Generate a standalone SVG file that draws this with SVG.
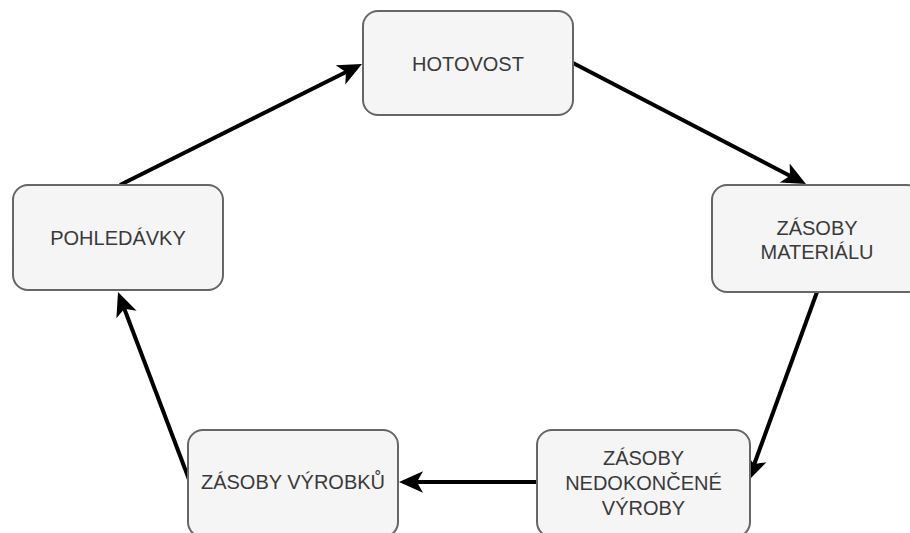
<svg xmlns="http://www.w3.org/2000/svg" width="910" height="533" viewBox="0 0 910 533">
<defs>
<marker id="arr" markerUnits="userSpaceOnUse" markerWidth="24" markerHeight="24" viewBox="0 0 20 20" refX="8" refY="10" orient="auto">
<path d="M20,10 L0,1 L5,10 L0,19 Z" fill="#000"/>
</marker>
<style>
.box{fill:#f5f5f5;stroke:#666;stroke-width:2}
.lbl{font-family:"Liberation Sans",Arial,sans-serif;font-size:20px;fill:#3a3a3a;text-anchor:middle}
.edge{stroke:#000;stroke-width:4;fill:none;marker-end:url(#arr)}
</style>
</defs>
<rect width="910" height="533" fill="#fff"/>
<g id="connectors">
<line class="edge" x1="120" y1="185" x2="349.1" y2="70.5"/>
<line class="edge" x1="573" y1="63" x2="793.2" y2="177.4"/>
<line class="edge" x1="817" y1="292" x2="753.0" y2="467.5"/>
<line class="edge" x1="537" y1="482" x2="413.4" y2="482"/>
<line class="edge" x1="190" y1="482" x2="123.1" y2="305.5"/>
</g>
<g id="hotovost">
<rect class="box" x="363" y="11" width="210" height="104" rx="15"/>
<text class="lbl" x="468" y="71">HOTOVOST</text>
</g>
<g id="zasoby-materialu">
<rect class="box" x="712" y="185" width="210" height="107" rx="15"/>
<text class="lbl" x="817" y="235">ZÁSOBY</text>
<text class="lbl" x="817" y="259">MATERIÁLU</text>
</g>
<g id="zasoby-nedokoncene-vyroby">
<rect class="box" x="537" y="430" width="213" height="107" rx="15"/>
<text class="lbl" x="643.5" y="465">ZÁSOBY</text>
<text class="lbl" x="643.5" y="490">NEDOKONČENÉ</text>
<text class="lbl" x="643.5" y="515">VÝROBY</text>
</g>
<g id="zasoby-vyrobku">
<rect class="box" x="188" y="430" width="210" height="107" rx="15"/>
<text class="lbl" x="293" y="489">ZÁSOBY VÝROBKŮ</text>
</g>
<g id="pohledavky">
<rect class="box" x="13" y="185" width="210" height="105" rx="15"/>
<text class="lbl" x="118" y="245">POHLEDÁVKY</text>
</g>
</svg>
